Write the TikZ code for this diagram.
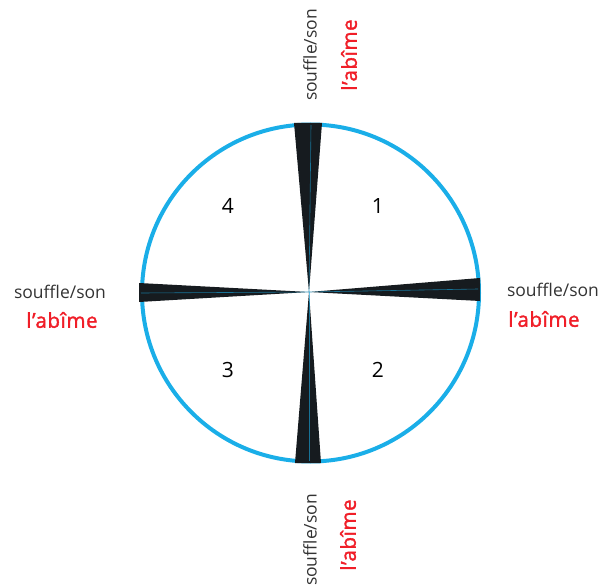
\documentclass[tikz,border=0pt]{standalone}
\usepackage{fontspec}
\setmainfont{Open Sans}
\newfontfamily\redfont{Open Sans}[FakeBold=1.6, LetterSpace=3]
\definecolor{ringblue}{RGB}{26,174,232}
\definecolor{wedgedark}{RGB}{22,27,31}
\definecolor{txtgray}{RGB}{51,51,51}
\definecolor{txtred}{RGB}{240,30,40}
\tikzset{
  ring/.style={draw=ringblue, line width=4pt},
  wedge/.style={fill=wedgedark, draw=none},
  axisline/.style={draw=ringblue, line width=0.6pt, opacity=0.6},
  graylabel/.style={text=txtgray, font=\fontsize{17.5}{20}\selectfont, inner sep=0pt},
  redlabel/.style={text=txtred, font=\redfont\fontsize{20.5}{24}\selectfont, inner sep=0pt},
  numlabel/.style={text=black, font=\fontsize{21}{24}\selectfont, inner sep=0pt}
}
\begin{document}
\begin{tikzpicture}[x=1pt,y=-1pt]
\useasboundingbox (0,0) rectangle (600,588);
\coordinate (c) at (309,292);
\draw[ring] (310.5,293) circle (168.5);
% wedges
\coordinate (t1) at (294,123); \coordinate (t2) at (322,123);
\coordinate (b1) at (295,463); \coordinate (b2) at (321,463);
\coordinate (l1) at (139,283); \coordinate (l2) at (139,302);
\coordinate (r1) at (480,278); \coordinate (r2) at (480,301);
\fill[wedge] (c) -- (t1) -- (t2) -- cycle;
\fill[wedge] (c) -- (b1) -- (b2) -- cycle;
\fill[wedge] (c) -- (l1) -- (l2) -- cycle;
\fill[wedge] (c) -- (r1) -- (r2) -- cycle;
\coordinate (te) at (311,125); \coordinate (be) at (309,461);
\coordinate (le) at (141,293); \coordinate (re) at (478,289);
\draw[axisline] (c) -- (te);
\draw[axisline] (c) -- (be);
\draw[axisline] (c) -- (le);
\draw[axisline] (c) -- (re);
% numbers
\node[numlabel] (n1) at (378,206) {1};
\node[numlabel] (n4) at (228,206) {4};
\node[numlabel] (n3) at (228,370) {3};
\node[numlabel] (n2) at (378,370) {2};
% labels
\node[graylabel, rotate=90] (gt) at (310,55) {souffle/son};
\node[redlabel, rotate=90] (rt) at (349,55) {l’abîme};
\node[graylabel, rotate=90] (gb) at (310,540) {souffle/son};
\node[redlabel, rotate=90] (rb) at (348,535) {l’abîme};
\node[graylabel] (gl) at (60,292) {souffle/son};
\node[redlabel] (rl) at (62,320) {l’abîme};
\node[graylabel] (gr) at (553,290) {souffle/son};
\node[redlabel] (rr) at (544,319) {l’abîme};
\end{tikzpicture}
\end{document}
